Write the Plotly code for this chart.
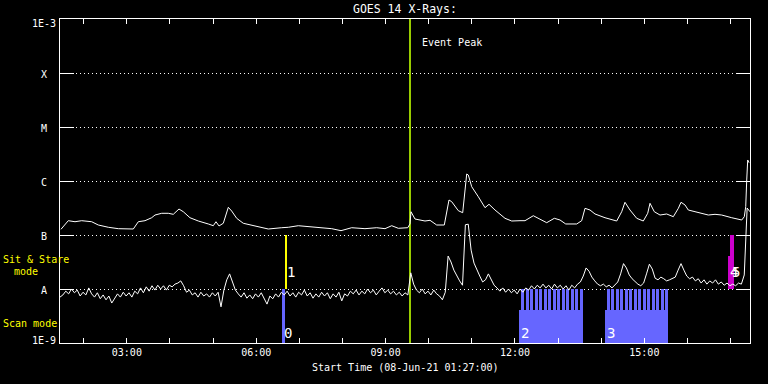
import plotly.graph_objects as go
import math

# ---------------- data ----------------
# Long channel (1-8 A): time in hours of 08-Jun-21, log10 flux (W/m^2)
long_t = [1.473, 1.642, 1.798, 1.953, 2.185, 2.338, 2.570, 2.802, 3.150, 3.266, 3.421, 3.576,
          3.653, 3.808, 3.961, 4.077, 4.209, 4.309, 4.464, 4.657, 4.889, 5.005, 5.067, 5.137,
          5.237, 5.353, 5.431, 5.547, 5.700, 5.972, 6.280, 6.591, 6.744, 6.976, 7.440, 7.750,
          7.966, 8.214, 8.522, 8.794, 8.986, 9.142, 9.295, 9.513, 9.566, 9.589, 9.682, 9.914,
          10.030, 10.185, 10.361, 10.470, 10.533, 10.686, 10.788, 10.841, 10.881, 10.918, 10.997,
          11.150, 11.305, 11.398, 11.537, 11.769, 11.924, 12.117, 12.233, 12.425, 12.581, 12.736,
          12.912, 13.044, 13.177, 13.432, 13.547, 13.624, 13.740, 13.856, 14.088, 14.359, 14.475,
          14.551, 14.667, 14.823, 14.976, 15.078, 15.131, 15.231, 15.363, 15.518, 15.672, 15.788,
          15.850, 15.943, 16.019, 16.175, 16.330, 16.483, 16.639, 16.794, 17.026, 17.258, 17.318,
          17.351, 17.374, 17.397, 17.427]
long_log = [-6.894, -6.735, -6.754, -6.735, -6.754, -6.815, -6.857, -6.883, -6.889, -6.754, -6.735, -6.680,
            -6.630, -6.598, -6.598, -6.617, -6.519, -6.569, -6.680, -6.741, -6.796, -6.828, -6.754, -6.833,
            -6.783, -6.487, -6.556, -6.691, -6.783, -6.828, -6.889, -6.865, -6.857, -6.828, -6.865, -6.883,
            -6.920, -6.865, -6.883, -6.865, -6.883, -6.828, -6.876, -6.865, -6.796, -6.569, -6.704, -6.741,
            -6.728, -6.815, -6.815, -6.352, -6.383, -6.550, -6.587, -6.106, -5.870, -5.889, -6.106,
            -6.291, -6.494, -6.431, -6.537, -6.691, -6.741, -6.735, -6.735, -6.643, -6.704, -6.772,
            -6.691, -6.722, -6.796, -6.796, -6.735, -6.506, -6.537, -6.611, -6.680, -6.741, -6.569,
            -6.394, -6.537, -6.691, -6.741, -6.598, -6.413, -6.569, -6.630, -6.611, -6.661, -6.506,
            -6.394, -6.444, -6.537, -6.569, -6.611, -6.630, -6.617, -6.630, -6.680, -6.722, -6.661,
            -6.476, -5.981, -5.611, -5.661]

# Short channel (0.5-4 A): 4-minute samples starting 01:27, log10 flux
short_start_h = 1.45
short_step_h = 4 / 60
short_log = [
    -8.15, -8.11, -8.04, -8.09, -8.00, -8.07, -8.02, -8.13, -8.06, -8.11,
    -7.98, -8.09, -8.15, -8.07, -8.18, -8.11, -8.20, -8.13, -8.26, -8.17,
    -8.09, -8.15, -8.06, -8.13, -8.07, -8.15, -8.04, -8.09, -7.98, -8.07,
    -7.96, -8.04, -7.94, -8.02, -7.93, -8.00, -7.94, -8.02, -7.93, -7.96,
    -7.91, -7.89, -7.85, -7.94, -8.06, -8.02, -8.11, -8.07, -8.15, -8.06,
    -8.13, -8.09, -8.15, -8.07, -8.13, -8.06, -8.33, -8.02, -7.83, -7.72,
    -7.87, -8.02, -8.09, -8.15, -8.07, -8.17, -8.11, -8.18, -8.09, -8.15,
    -8.07, -8.17, -8.28, -8.13, -8.18, -8.09, -8.15, -8.06, -8.11, -8.04,
    -8.13, -8.07, -8.15, -8.06, -8.11, -8.02, -8.13, -8.07, -8.17, -8.09,
    -8.15, -8.06, -8.13, -8.07, -8.18, -8.09, -8.15, -8.06, -8.22, -8.09,
    -8.13, -8.04, -8.09, -8.02, -8.11, -8.04, -8.09, -8.00, -8.07, -8.02,
    -8.11, -8.04, -7.98, -8.07, -8.02, -8.09, -8.04, -8.11, -8.06, -8.13,
    -8.07, -8.11, -7.70, -7.91, -8.02, -8.07, -8.00, -8.09, -8.04, -8.11,
    -8.02, -8.09, -8.13, -8.20, -8.06, -7.39, -7.50, -7.65, -7.76, -7.85,
    -7.93, -6.81, -6.80, -7.28, -7.52, -7.65, -7.76, -7.87, -7.83, -7.72,
    -7.83, -7.93, -7.98, -8.04, -7.98, -8.06, -8.00, -8.07, -8.02, -8.09,
    -8.00, -8.06, -7.98, -8.02, -7.94, -8.00, -7.93, -7.98, -7.91, -7.98,
    -7.93, -8.00, -7.91, -7.98, -7.93, -8.00, -7.94, -8.02, -7.93, -7.98,
    -7.91, -7.87, -7.76, -7.61, -7.67, -7.78, -7.85, -7.91, -7.94, -7.91,
    -7.96, -7.93, -7.98, -7.93, -7.87, -7.72, -7.53, -7.61, -7.74, -7.81,
    -7.87, -7.91, -7.94, -7.89, -7.72, -7.54, -7.63, -7.80, -7.83, -7.78,
    -7.81, -7.85, -7.83, -7.81, -7.78, -7.65, -7.53, -7.65, -7.76, -7.81,
    -7.78, -7.85, -7.81, -7.89, -7.83, -7.91, -7.85, -7.89, -7.83, -7.91,
    -7.87, -7.93, -7.89, -7.94, -7.91, -7.94, -7.89, -7.91, -7.74, -6.50,
    -6.57]

event_peak_h = 9.566

# Scan-mode observations (bottom band 1E-9 .. top)
scan_labels = ["0", "2", "3"]
scan_start = [6.598, 12.093, 14.095]
scan_end = [6.668, 13.547, 15.542]
scan_top_log = [-8.0, -8.389, -8.389]
# individual scans inside groups 2 and 3
tooth_start = [12.140, 12.245, 12.349, 12.453, 12.558, 12.662, 12.766, 12.871, 12.975, 13.080,
               13.184, 13.288, 13.393, 13.497,
               14.127, 14.231, 14.336, 14.440, 14.544, 14.649, 14.753, 14.858, 14.962, 15.066,
               15.171, 15.275, 15.379, 15.484]
tooth_dur_h = 0.0695
tooth_top_log = -8.0

# Sit & Stare observations (band 1E-8 .. top)
sit_labels = ["1", "4", "5"]
sit_start = [6.668, 16.940, 16.986]
sit_end = [6.691, 16.986, 17.079]
sit_top_log = [-7.0, -7.389, -7.0]
sit_colors = ["#ffff00", "#cc00cc", "#cc00cc"]

x_tick_vals = [2, 3, 4, 5, 6, 7, 8, 9, 10, 11, 12, 13, 14, 15, 16, 17]
x_tick_text = ["", "03:00", "", "", "06:00", "", "", "09:00", "", "", "12:00", "", "", "15:00", "", ""]
y_label_text = ["1E-3", "X", "M", "C", "B", "A", "1E-9"]
y_label_log = [-3, -4, -5, -6, -7, -8, -9]

# ---------------- figure ----------------
FONT = "DejaVu Sans Mono"
L, R, T, B = 60, 18, 19, 41
W, H = 768, 384
PW, PH = W - L - R, H - T - B

def px_x(px):
    return (px - L) / PW

def px_y(py):
    return (H - B - py) / PH

fig = go.Figure()

# scan-mode bars
base_scan = 1e-9
fig.add_trace(go.Bar(
    x=[(s + e) / 2 for s, e in zip(scan_start, scan_end)],
    width=[e - s for s, e in zip(scan_start, scan_end)],
    base=[base_scan] * len(scan_start),
    y=[10 ** t - base_scan for t in scan_top_log],
    marker=dict(color="#6666ff", line=dict(width=0)),
    hoverinfo="skip"))
fig.add_trace(go.Bar(
    x=[s + tooth_dur_h / 2 for s in tooth_start],
    width=[tooth_dur_h] * len(tooth_start),
    base=[base_scan] * len(tooth_start),
    y=[10 ** tooth_top_log - base_scan] * len(tooth_start),
    marker=dict(color="#6666ff", line=dict(width=0)),
    hoverinfo="skip"))
# sit & stare bars
base_sit = 1e-8
fig.add_trace(go.Bar(
    x=[(s + e) / 2 for s, e in zip(sit_start, sit_end)],
    width=[e - s for s, e in zip(sit_start, sit_end)],
    base=[base_sit] * len(sit_start),
    y=[10 ** t - base_sit for t in sit_top_log],
    marker=dict(color=sit_colors, line=dict(width=0)),
    hoverinfo="skip"))

# event peak line
fig.add_trace(go.Scatter(x=[event_peak_h, event_peak_h], y=[1e-9, 1e-3], mode="lines",
                         line=dict(color="#99cc00", width=2), hoverinfo="skip"))

# curves
short_t = [short_start_h + i * short_step_h for i in range(len(short_log))]
fig.add_trace(go.Scatter(x=long_t, y=[10 ** v for v in long_log], mode="lines",
                         line=dict(color="white", width=1), hoverinfo="skip"))
fig.add_trace(go.Scatter(x=short_t, y=[10 ** v for v in short_log], mode="lines",
                         line=dict(color="white", width=1), hoverinfo="skip"))

ann = []
# mode labels
for lab, s in zip(scan_labels, scan_start):
    ann.append(dict(x=s, y=-8.815, xref="x", yref="y", text=lab, showarrow=False,
                    xanchor="left", yanchor="middle", font=dict(family=FONT, size=14, color="white")))
for lab, s in zip(sit_labels, sit_start):
    ann.append(dict(x=s, y=-7.685, xref="x", yref="y", text=lab, showarrow=False,
                    xanchor="left", yanchor="middle", font=dict(family=FONT, size=14, color="white")))
# event peak text
ann.append(dict(x=9.80, y=-3.444, xref="x", yref="y", text="Event Peak", showarrow=False,
                xanchor="left", yanchor="middle", font=dict(family=FONT, size=10, color="white")))
# y labels (centred at x=44px)
shifts = {"1E-3": -4, "1E-9": 3}
for txt, v in zip(y_label_text, y_label_log):
    ann.append(dict(x=px_x(44), y=v, xref="paper", yref="y", text=txt, showarrow=False,
                    xanchor="center", yanchor="middle", yshift=shifts.get(txt, -1),
                    font=dict(family=FONT, size=10, color="white")))
# mode legend labels (yellow)
ann.append(dict(x=px_x(1), y=px_y(259), xref="paper", yref="paper", text="Sit & Stare",
                showarrow=False, xanchor="left", yanchor="middle",
                font=dict(family=FONT, size=10, color="#ffff00")))
ann.append(dict(x=px_x(11.5), y=px_y(271), xref="paper", yref="paper", text="mode",
                showarrow=False, xanchor="left", yanchor="middle",
                font=dict(family=FONT, size=10, color="#ffff00")))
ann.append(dict(x=px_x(0.5), y=px_y(323), xref="paper", yref="paper", text="Scan mode",
                showarrow=False, xanchor="left", yanchor="middle",
                font=dict(family=FONT, size=10, color="#ffff00")))
# title and x-axis title
ann.append(dict(x=0.5, y=px_y(9.5), xref="paper", yref="paper", text="GOES 14 X-Rays:",
                showarrow=False, xanchor="center", yanchor="middle",
                font=dict(family=FONT, size=11.5, color="white")))
ann.append(dict(x=0.5, y=px_y(368), xref="paper", yref="paper",
                text="Start Time (08-Jun-21 01:27:00)",
                showarrow=False, xanchor="center", yanchor="middle",
                font=dict(family=FONT, size=10, color="white")))

fig.update_layout(
    width=W, height=H, margin=dict(l=L, r=R, t=T, b=B, pad=0),
    paper_bgcolor="black", plot_bgcolor="black", showlegend=False,
    barmode="overlay", bargap=0,
    font=dict(family=FONT, size=10, color="white"),
    annotations=ann)
fig.update_xaxes(range=[1.45, 17.45], tickmode="array", tickvals=x_tick_vals, ticktext=x_tick_text,
                 ticks="inside", ticklen=5, tickwidth=1, tickcolor="white",
                 showline=True, linecolor="white", linewidth=1, mirror="allticks",
                 showgrid=False, zeroline=False,
                 tickfont=dict(family=FONT, size=10, color="white"))
fig.update_yaxes(type="log", range=[-9, -3], tickmode="array",
                 tickvals=[10 ** v for v in y_label_log], showticklabels=False,
                 ticks="inside", ticklen=14, tickwidth=1, tickcolor="white",
                 showline=True, linecolor="white", linewidth=1, mirror="allticks",
                 showgrid=True, gridcolor="white", gridwidth=1, griddash="1px,3px",
                 zeroline=False)

fig.write_html("out.html")
